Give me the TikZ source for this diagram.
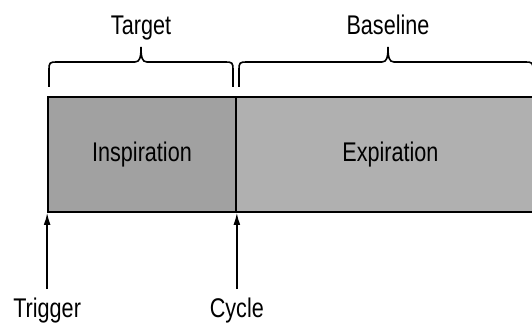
\documentclass[tikz,border=0pt]{standalone}
\usepackage{fontspec}
\setmainfont[FakeStretch=0.8]{Liberation Sans}
\usetikzlibrary{arrows.meta}

\begin{document}
\begin{tikzpicture}[x=0.5pt,y=-0.5pt]
  \tikzstyle{phase}=[draw=black, line width=0.85pt, minimum height=57.5pt, inner sep=0pt,
  text height=7.5pt, text depth=0pt, font=\fontsize{13.5}{16}\selectfont]
  \tikzstyle{etiq}=[inner sep=0pt, font=\fontsize{13.5}{16}\selectfont]
  \tikzstyle{fleche}=[-{Latex[length=6pt,width=3.4pt]}, line width=0.7pt]
  \tikzstyle{accolade}=[line width=0.8pt]
  \useasboundingbox (0,0) rectangle (532,324);
  % the two phases of the breath
  \node[phase, fill=black!37, minimum width=94pt] (insp) at (142,154.5) {Inspiration};
  \node[phase, fill=black!31, minimum width=154.5pt] (expi) at (390.5,154.5) {Expiration};
  % braces over the phases
  \foreach \t/\a/\m/\b in {Target/49/141/233, Baseline/239/388/533} {
    \draw[accolade] (\a,87) -- (\a,69) .. controls (\a,63) and (\a+1,62) .. (\a+7,62)
      -- (\m-6,62) .. controls (\m-1,62) and (\m,57) .. (\m,47)
      .. controls (\m,57) and (\m+1,62) .. (\m+6,62)
      -- (\b-7,62) .. controls (\b-1,62) and (\b,63) .. (\b,69) -- (\b,87);
    \node[etiq, anchor=base] (\t) at (\m,35) {\t};
  }
  % events under the bar
  \foreach \n/\t/\p in {trig/Trigger/south west, cyc/Cycle/south east} {
    \node[etiq, anchor=base] (\n) at (insp.\p |- 0,318) {\t};
    \draw[fleche, shorten <=4.5pt] (\n.north) -- (insp.\p);
  }
\end{tikzpicture}
\end{document}
